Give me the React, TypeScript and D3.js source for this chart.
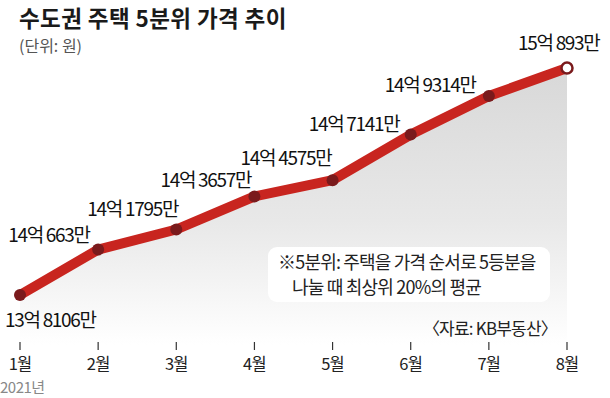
import React from "react";
import * as d3 from "d3";

const months = ["1월", "2월", "3월", "4월", "5월", "6월", "7월", "8월"];
const values = [138106, 140663, 141795, 143657, 144575, 147141, 149314, 150893];
const labels = ["13억 8106만", "14억 663만", "14억 1795만", "14억 3657만", "14억 4575만", "14억 7141만", "14억 9314만", "15억 893만"];
const labelOffsets: [number, number][] = [
  [-15, 32], [-90, -8], [-89, -14], [-94, -9], [-92, -15], [-102, -4], [-104, -4], [-49, -18],
];

const W = 610, H = 398;
const FONT = "'Noto Sans CJK KR', 'Noto Sans', sans-serif";

export default function App() {
  const x = d3.scalePoint<string>().domain(months).range([20, 567]);
  const y = d3.scaleLinear().domain([d3.min(values)!, d3.max(values)!]).range([295, 68]);
  const baseY = 345;
  const pts = values.map((v, i) => [x(months[i])!, y(v)] as [number, number]);
  const line = d3.line<[number, number]>().x(d => d[0]).y(d => d[1])(pts)!;
  const area = d3.area<[number, number]>().x(d => d[0]).y0(baseY).y1(d => d[1])(pts)!;
  const last = pts.length - 1;
  return (
    <svg width={W} height={H} style={{ position: "absolute", left: 0, top: 0, background: "#fff" }} fontFamily={FONT}>
      <defs>
        <linearGradient id="ga" gradientUnits="userSpaceOnUse" x1="0" y1={y(d3.max(values)!)} x2="0" y2={baseY}>
          <stop offset="0" stopColor="#d8d8d8" />
          <stop offset="0.55" stopColor="#e8e8e8" />
          <stop offset="1" stopColor="#ffffff" />
        </linearGradient>
      </defs>
      <rect width={W} height={H} fill="#fff" />
      <path d={area} fill="url(#ga)" />
      <text x={19} y={26.5} fontSize={22.5} fontWeight={700} fill="#1a1a1a" letterSpacing={0.4}>수도권 주택 5분위 가격 추이</text>
      <text x={19} y={52} fontSize={16} fill="#555" letterSpacing={0}>(단위: 원)</text>

      <rect x={268} y={247} width={282} height={55} rx={9} fill="#fff" />
      <text x={278} y={269} fontSize={18} fill="#222" letterSpacing={-0.8}>※5분위: 주택을 가격 순서로 5등분을</text>
      <text x={292} y={294} fontSize={18} fill="#222" letterSpacing={-0.8}>나눌 때 최상위 20%의 평균</text>
      <text x={557} y={335} fontSize={17} fill="#222" letterSpacing={-0.8} textAnchor="end">〈자료: KB부동산〉</text>

      <path d={line} fill="none" stroke="#c8251f" strokeWidth={10} strokeLinejoin="round" strokeLinecap="round" />
      {pts.slice(0, last).map((p, i) => (
        <circle key={i} cx={p[0]} cy={p[1]} r={6} fill="#7a1a1c" />
      ))}
      <circle cx={pts[last][0]} cy={pts[last][1]} r={5.5} fill="#fff" stroke="#7a1a1c" strokeWidth={2.5} />

      {labels.map((t, i) => (
        <text key={t} x={pts[i][0] + labelOffsets[i][0]} y={pts[i][1] + labelOffsets[i][1]} fontSize={19} fill="#111" letterSpacing={-1.3}>{t}</text>
      ))}

      {months.map(m => (
        <g key={m} transform={`translate(${x(m)},0)`}>
          <line y1={342} y2={350} stroke="#333" strokeWidth={1.2} />
          <text y={370} fontSize={16.5} textAnchor="middle" fill="#222" letterSpacing={-0.8}>{m}</text>
        </g>
      ))}
      <text x={0} y={393} fontSize={15} fill="#888" letterSpacing={-0.5}>2021년</text>
    </svg>
  );
}
